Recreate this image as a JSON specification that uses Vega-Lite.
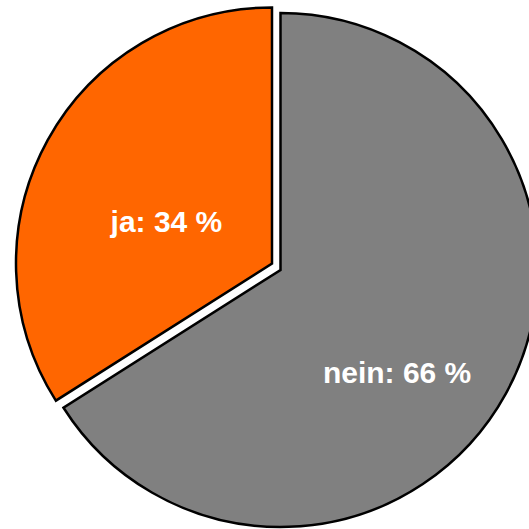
{
  "$schema": "https://vega.github.io/schema/vega-lite/v6.json",
  "width": 529,
  "height": 529,
  "autosize": "none",
  "padding": 0,
  "background": "white",
  "view": {"stroke": null},
  "data": {
    "values": [
      {"antwort": "nein", "prozent": 66, "reihenfolge": 1, "label": "nein: 66 %"},
      {"antwort": "ja", "prozent": 34, "reihenfolge": 2, "label": "ja: 34 %"}
    ]
  },
  "transform": [
    {"stack": "prozent", "groupby": [], "sort": [{"field": "reihenfolge", "order": "ascending"}], "as": ["start", "end"]}
  ],
  "layer": [
    {
      "transform": [{"filter": "datum.antwort === 'nein'"}],
      "mark": {"type": "arc", "radius": 257, "fill": "#808080", "stroke": "black", "strokeWidth": 2.5, "xOffset": 16, "yOffset": 5.5},
      "encoding": {
        "theta": {"field": "start", "type": "quantitative", "scale": {"domain": [0, 100]}},
        "theta2": {"field": "end"}
      }
    },
    {
      "transform": [{"filter": "datum.antwort === 'ja'"}],
      "mark": {"type": "arc", "radius": 256, "fill": "#FF6600", "stroke": "black", "strokeWidth": 2.5, "xOffset": 7.5, "yOffset": -1},
      "encoding": {
        "theta": {"field": "start", "type": "quantitative", "scale": {"domain": [0, 100]}},
        "theta2": {"field": "end"}
      }
    },
    {
      "mark": {"type": "text", "radius": 150.5, "xOffset": 0.7, "yOffset": 36.5, "font": "Liberation Sans", "fontSize": 30, "fontWeight": "bold", "fill": "white", "align": "center", "baseline": "middle"},
      "encoding": {
        "theta": {"field": "prozent", "type": "quantitative", "stack": true},
        "order": {"field": "reihenfolge", "type": "quantitative"},
        "text": {"condition": {"test": "datum.antwort === 'nein'", "field": "label"}, "value": ""}
      }
    },
    {
      "mark": {"type": "text", "radius": 115, "xOffset": 2.7, "yOffset": 14.4, "font": "Liberation Sans", "fontSize": 30, "fontWeight": "bold", "fill": "white", "align": "center", "baseline": "middle"},
      "encoding": {
        "theta": {"field": "prozent", "type": "quantitative", "stack": true},
        "order": {"field": "reihenfolge", "type": "quantitative"},
        "text": {"condition": {"test": "datum.antwort === 'ja'", "field": "label"}, "value": ""}
      }
    }
  ]
}
